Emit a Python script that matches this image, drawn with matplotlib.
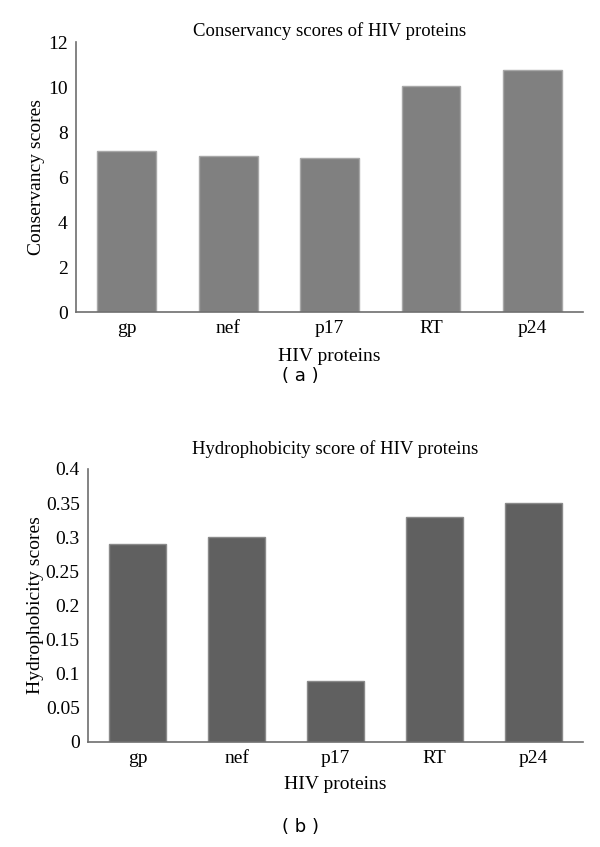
import matplotlib
matplotlib.use("Agg")
import matplotlib.pyplot as plt

proteins = ["gp", "nef", "p17", "RT", "p24"]
conservancy = [7.16, 6.95, 6.86, 10.03, 10.77]
hydrophobicity = [0.29, 0.30, 0.09, 0.33, 0.35]
cons_ticks = [0, 2, 4, 6, 8, 10, 12]
hyd_ticks = [0, 0.05, 0.1, 0.15, 0.2, 0.25, 0.3, 0.35, 0.4]
hyd_ticklabels = ["0", "0.05", "0.1", "0.15", "0.2", "0.25", "0.3", "0.35", "0.4"]

plt.rcParams['font.family'] = ['Liberation Serif', 'DejaVu Serif']

fig = plt.figure(figsize=(6, 8.47), dpi=100)

def style(ax):
    for s in ["top", "right"]:
        ax.spines[s].set_visible(False)
    for s in ["left", "bottom"]:
        ax.spines[s].set_color("#6e6e6e")
        ax.spines[s].set_linewidth(1.2)
    ax.tick_params(length=0, labelsize=14, pad=6)
    ax.set_xlim(-0.5, 4.5)

ax1 = fig.add_axes([0.1267, 0.6316, 0.845, 0.3188])
ax1.bar(range(len(proteins)), conservancy, width=0.58, color="#808080",
        edgecolor="#a8a8a8", linewidth=1)
style(ax1)
ax1.set_ylim(0, 12)
ax1.set_yticks(cons_ticks)
ax1.set_xticks(range(len(proteins)))
ax1.set_xticklabels(proteins)
ax1.set_title("Conservancy scores of HIV proteins", fontsize=13.5, pad=4)
ax1.set_xlabel("HIV proteins", fontsize=14, labelpad=8)
ax1.set_ylabel("Conservancy scores", fontsize=14, labelpad=2)
fig.text(0.5, 1 - 376 / 847, "( a )", ha="center", va="center",
         fontsize=13, family="DejaVu Sans")

ax2 = fig.add_axes([0.1467, 0.124, 0.825, 0.3223])
ax2.bar(range(len(proteins)), hydrophobicity, width=0.58, color="#606060",
        edgecolor="#8a8a8a", linewidth=1)
style(ax2)
ax2.set_ylim(0, 0.4)
ax2.set_yticks(hyd_ticks)
ax2.set_yticklabels(hyd_ticklabels)
ax2.set_xticks(range(len(proteins)))
ax2.set_xticklabels(proteins)
ax2.set_title("Hydrophobicity score of HIV proteins", fontsize=13.5, pad=11)
ax2.set_xlabel("HIV proteins", fontsize=14, labelpad=6)
ax2.set_ylabel("Hydrophobicity scores", fontsize=14, labelpad=1)
fig.text(0.5, 1 - 827 / 847, "( b )", ha="center", va="center",
         fontsize=13, family="DejaVu Sans")

fig.savefig("out.png", dpi=100)
